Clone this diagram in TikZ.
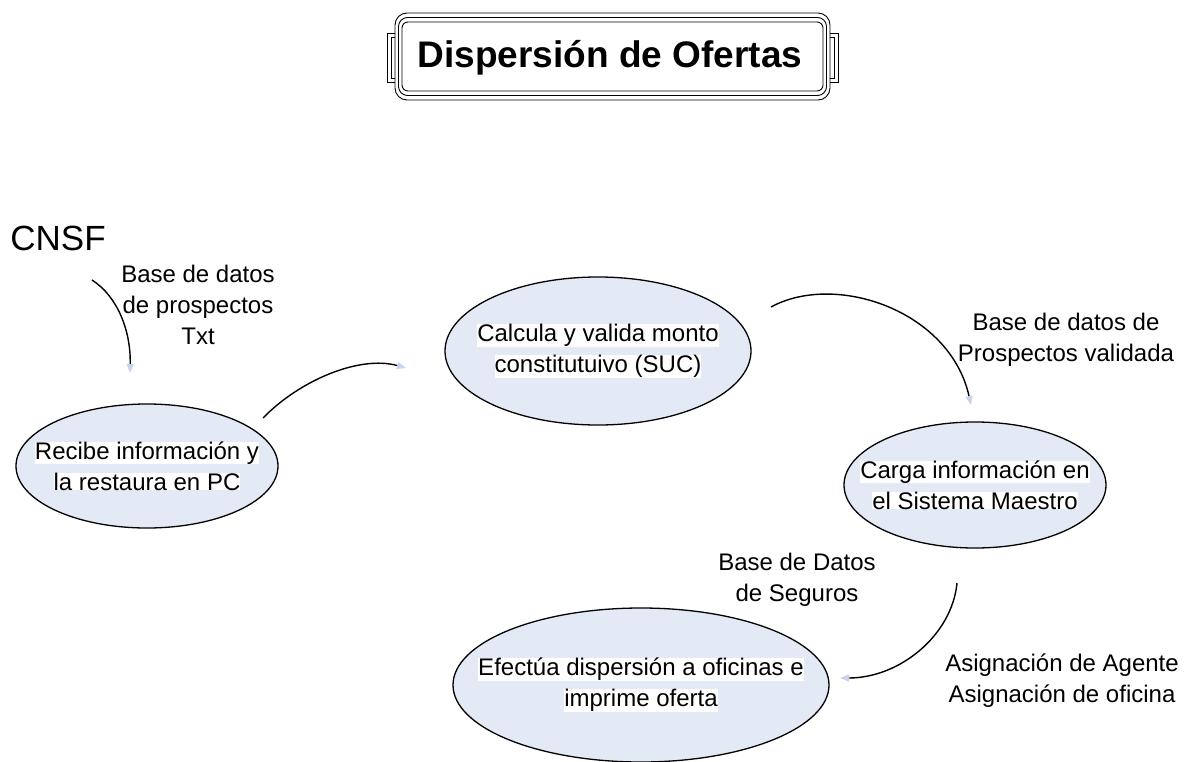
\documentclass[tikz,border=0pt]{standalone}
\usepackage{fontspec}
\setmainfont{Liberation Sans}
\usepackage{color}
\definecolor{myiceblue}{RGB}{227,234,246}
\definecolor{mytipblue}{RGB}{200,212,236}
\usepackage{tikz}
\usetikzlibrary{shapes.geometric,arrows.meta,positioning}
\tikzstyle{process}=[draw,fill=myiceblue,ellipse,inner sep=0pt,line width=1.3pt]
\tikzstyle{proctext}=[inner sep=0pt,align=center,font=\fontsize{24}{31}\selectfont]
\tikzstyle{flowlabel}=[inner sep=0pt,align=center,anchor=north,font=\fontsize{24}{31}\selectfont]
\tikzstyle{flow}=[line width=1.4pt,-{Triangle[length=9pt,width=7pt,color=mytipblue]}]
\newcommand{\hl}[1]{{\setlength{\fboxsep}{0pt}\colorbox{white}{#1}}}

\begin{document}
\begin{tikzpicture}[x=1pt,y=-1pt,line width=0.9pt]
\useasboundingbox (0,0) rectangle (1198,762);
% title frame
\draw[rounded corners=12pt] (395,13) rectangle (830,100);
\draw[rounded corners=9pt] (398.5,17.5) rectangle (826.5,95.5);
\draw[rounded corners=6pt] (402,22) rectangle (823,91);
\draw (395,33) -| (387,82) -- (395,82);
\draw (395,37) -| (391,78) -- (395,78);
\draw (830,33) -| (838,82) -- (830,82);
\draw (830,37) -| (834,78) -- (830,78);
\draw (610,68) node [anchor=base,font=\bfseries\fontsize{37}{40}\selectfont] (title) {Dispersión de Ofertas};
\draw (10,250) node [anchor=base west,inner sep=0pt,font=\fontsize{35}{40}\selectfont] (cnsf) {CNSF};
% processes
\draw (147,466) node [process,minimum width=262pt,minimum height=124pt] (recibe) {};
\draw (598,351) node [process,minimum width=306pt,minimum height=148pt] (calcula) {};
\draw (975,485) node [process,minimum width=262pt,minimum height=126pt] (carga) {};
\draw (641,685) node [process,minimum width=376pt,minimum height=154pt] (efectua) {};
\draw (recibe.center) node [proctext] (recibetxt) {\hl{Recibe información y}\\\hl{la restaura en PC}};
\draw (calcula.center) node [proctext] (calculatxt) {\hl{Calcula y valida monto}\\\hl{constitutuivo (SUC)}};
\draw (carga.center) node [proctext] (cargatxt) {\hl{Carga información en}\\\hl{el Sistema Maestro}};
\draw (efectua.center) node [proctext] (efectuatxt) {\hl{Efectúa dispersión a oficinas e}\\\hl{imprime oferta}};
% labels
\draw (198,265) node [flowlabel] (prospectos) {Base de datos\\de prospectos\\Txt};
\draw (1066,313) node [flowlabel] (validada) {Base de datos de\\Prospectos validada};
\draw (797,553) node [flowlabel] (seguros) {Base de Datos\\de Seguros};
\draw (1062,653) node [flowlabel] (asignacion) {Asignación de Agente\\Asignación de oficina};
% flows
\coordinate (a1) at (92,280);
\coordinate (a2) at (130,373);
\coordinate (b1) at (263,418);
\coordinate (b2) at (406,368);
\coordinate (c1) at (771,307);
\coordinate (c2) at (971,405);
\coordinate (d1) at (957,583);
\coordinate (d2) at (840,678);
\draw[flow] (a1) .. controls (117,296) and (131,330) .. (a2);
\draw[flow] (b1) .. controls (300,380) and (360,355) .. (b2);
\draw[flow] (c1) .. controls (835,272) and (950,310) .. (c2);
\draw[flow] (d1) .. controls (952,635) and (900,678) .. (d2);
\end{tikzpicture}
\end{document}
